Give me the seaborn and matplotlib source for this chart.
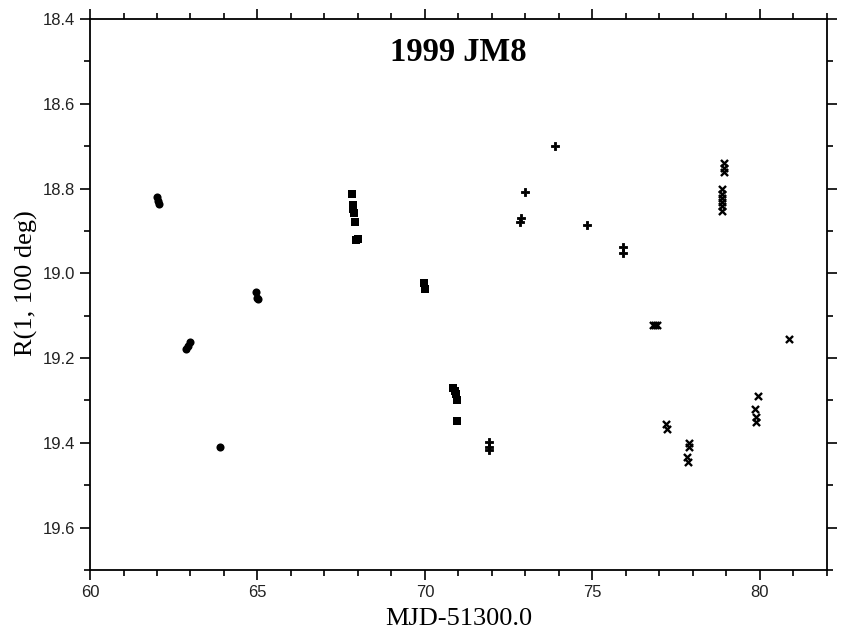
import numpy as np
import pandas as pd
import matplotlib
matplotlib.use("Agg")
import matplotlib.pyplot as plt
import seaborn as sns
from matplotlib.ticker import MultipleLocator

# -----------------------------
# DATA
# -----------------------------
# night 1: filled circles
circ_mjd = [61.99, 62.03, 62.05, 62.87, 62.92, 62.99, 63.88, 64.95, 64.98, 65.02]
circ_mag = [18.820, 18.830, 18.836, 19.178, 19.172, 19.163, 19.410, 19.045, 19.058, 19.060]

# night 2: filled squares
sq_mjd = [67.83, 67.86, 67.86, 67.87, 67.91, 67.93, 68.00, 69.98, 70.01,
          70.85, 70.90, 70.92, 70.97, 70.97]
sq_mag = [18.814, 18.838, 18.848, 18.858, 18.880, 18.922, 18.920, 19.022, 19.037,
          19.270, 19.278, 19.285, 19.300, 19.349]

# night 3: filled plus
plus_mjd = [71.90, 71.90, 71.91, 72.84, 72.86, 72.99, 73.89, 74.84, 75.92, 75.92]
plus_mag = [19.398, 19.410, 19.417, 18.880, 18.870, 18.807, 18.700, 18.885, 18.937, 18.952]

# night 4: crosses
x_mjd = [76.82, 76.88, 76.94, 77.20, 77.22, 77.84, 77.85, 77.89, 77.90,
         78.86, 78.86, 78.86, 78.87, 78.87, 78.88, 78.92, 78.94, 78.93,
         79.86, 79.88, 79.90, 79.95, 80.88]
x_mag = [19.122, 19.122, 19.122, 19.356, 19.368, 19.433, 19.445, 19.400, 19.410,
         18.800, 18.812, 18.822, 18.832, 18.842, 18.852, 18.740, 18.752, 18.762,
         19.320, 19.338, 19.350, 19.290, 19.155]

# -----------------------------
# PLOT
# -----------------------------
sns.set_style("ticks")
plt.rcParams['font.family'] = ['Liberation Sans', 'DejaVu Sans']
plt.rcParams['text.color'] = 'black'

fig = plt.figure(figsize=(8.55, 6.38), dpi=100)
ax = fig.add_axes([0.1053, 0.1066, 0.8616, 0.8636])

sns.scatterplot(x=circ_mjd, y=circ_mag, marker='o', s=34, color='black',
                edgecolor='black', linewidth=0, ax=ax)
sns.scatterplot(x=sq_mjd, y=sq_mag, marker='s', s=26, color='black',
                edgecolor='black', linewidth=0, ax=ax)
sns.scatterplot(x=plus_mjd, y=plus_mag, marker='P', s=36, color='black',
                edgecolor='black', linewidth=0.6, ax=ax)
sns.scatterplot(x=x_mjd, y=x_mag, marker='x', s=26, color='black',
                linewidth=1.7, ax=ax)

ax.set_xlim(60, 82)
ax.set_ylim(19.7, 18.4)
ax.xaxis.set_major_locator(MultipleLocator(5))
ax.xaxis.set_minor_locator(MultipleLocator(1))
ax.yaxis.set_major_locator(MultipleLocator(0.2))
ax.yaxis.set_minor_locator(MultipleLocator(0.1))
ax.yaxis.set_major_formatter(matplotlib.ticker.FormatStrFormatter('%.1f'))

ax.tick_params(which='both', direction='out', top=True, right=True,
               labeltop=False, labelright=False, color='black', width=1.2,
               labelsize=12, labelcolor='#222222')
ax.tick_params(which='major', length=7)
ax.tick_params(which='minor', length=4.5)
for sp in ax.spines.values():
    sp.set_visible(True)
    sp.set_linewidth(1.3)
    sp.set_color('black')

ax.set_xlabel("MJD-51300.0", family=['Liberation Serif'], fontsize=19,
              labelpad=6, color='black')
ax.set_ylabel("R(1, 100 deg)", family=['Liberation Serif'], fontsize=19,
              labelpad=6, color='black')
ax.yaxis.set_label_coords(-0.07, 0.52)
ax.text(0.5, 0.968, "1999 JM8", transform=ax.transAxes, ha='center', va='top',
        family=['Liberation Serif'], fontweight='bold', fontsize=23.5, color='black')

fig.savefig("out.png", dpi=100)
